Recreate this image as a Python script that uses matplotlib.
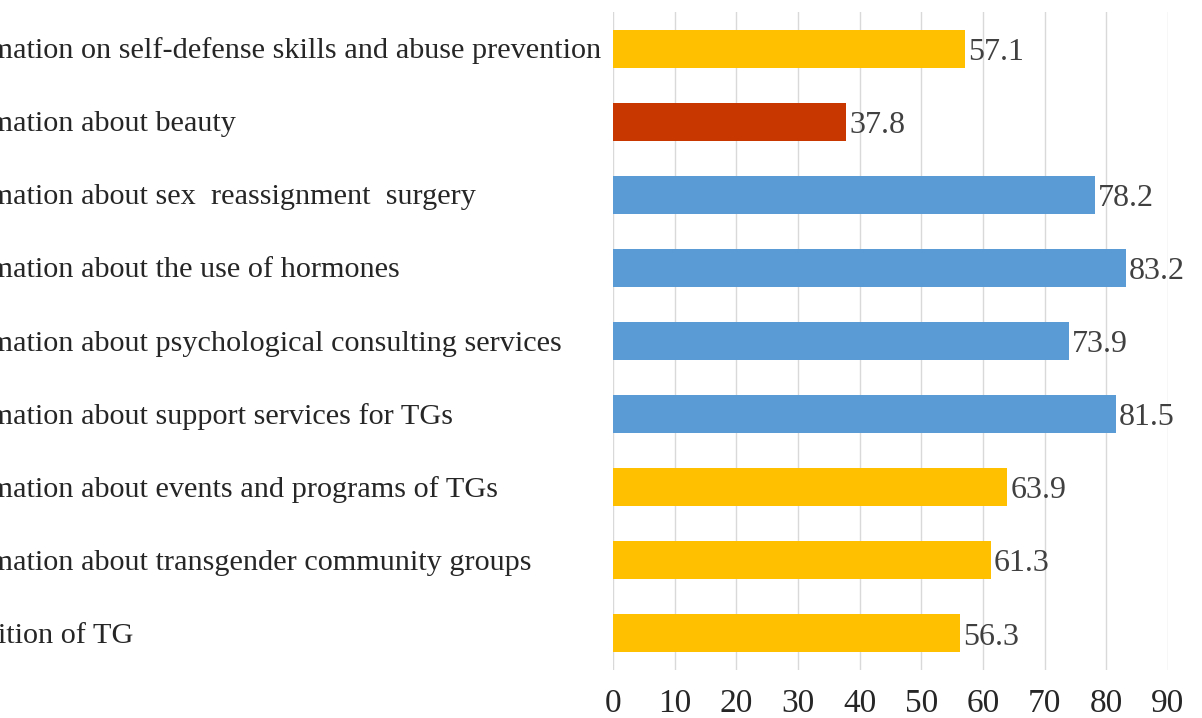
import matplotlib.pyplot as plt
import matplotlib.transforms as mtransforms

plt.rcParams['font.family'] = 'Liberation Serif'

labels = [
    'Information on self-defense skills and abuse prevention',
    'Information about beauty',
    'Information about sex  reassignment  surgery',
    'Information about the use of hormones',
    'Information about psychological consulting services',
    'Information about support services for TGs',
    'Information about events and programs of TGs',
    'Information about transgender community groups',
    'Definition of TG',
]
values = [57.1, 37.8, 78.2, 83.2, 73.9, 81.5, 63.9, 61.3, 56.3]
colors = ['#FFC000', '#C83700', '#5B9BD5', '#5B9BD5', '#5B9BD5',
          '#5B9BD5', '#FFC000', '#FFC000', '#FFC000']
xticks = list(range(0, 100, 10))

W, H = 1202, 718
fig = plt.figure(figsize=(W / 100, H / 100), dpi=100)
ax = fig.add_axes([613 / W, 1 - 670 / H, (1168 - 613) / W, (670 - 12) / H])

pos = list(range(len(labels)))
ax.barh(pos, values, height=0.52, color=colors, zorder=2)
ax.set_ylim(len(labels) - 0.5, -0.5)
ax.set_xlim(0, 90)

ax.set_xticks(xticks)
ax.set_xticklabels([str(t) for t in xticks], fontsize=24, color='#262626')
ax.tick_params(axis='x', length=0, pad=13)
ax.set_yticks([])
ax.grid(axis='x', color='#D9D9D9', linewidth=1, zorder=0)
for s in ax.spines.values():
    s.set_visible(False)

for p, v in zip(pos, values):
    ax.text(v + 0.5, p + 0.05, f'{v:.1f}', va='center', ha='left',
            fontsize=23, color='#404040')

# category names run off the left edge of the figure
trans = mtransforms.blended_transform_factory(fig.transFigure, ax.transData)
for p, lab in zip(pos, labels):
    fig.text(-71 / W, p + 0.03, lab, transform=trans, va='center', ha='left',
             fontsize=21.8, color='#262626')

fig.savefig('out.png', dpi=100)
